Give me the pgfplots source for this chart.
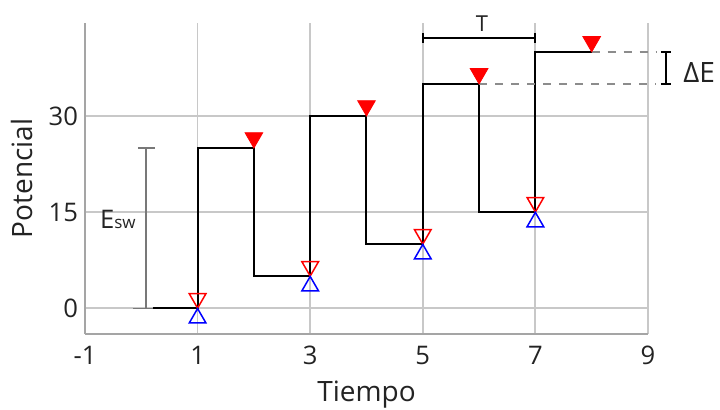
\documentclass[border=0pt]{standalone}
\usepackage{fontspec}
\setmainfont{Open Sans}
\usepackage{pgfplots}
\pgfplotsset{compat=1.18}

\definecolor{gridgray}{RGB}{200,200,200}
\definecolor{axisgray}{RGB}{165,165,165}
\definecolor{txt}{RGB}{35,35,35}
\definecolor{mred}{RGB}{255,0,0}
\definecolor{mblue}{RGB}{0,0,255}
\definecolor{dashgray}{RGB}{140,140,140}
\definecolor{barcol}{RGB}{120,120,120}

\begin{document}
\begin{tikzpicture}
\useasboundingbox (-42.5pt,-38pt) rectangle (317.5pt,167pt);
\begin{axis}[
  scale only axis, width=281.5pt, height=155.5pt,
  at={(0,0)}, anchor=south west,
  xmin=-1, xmax=9, ymin=-4, ymax=44.5,
  xtick={-1,1,3,5,7,9}, ytick={0,15,30},
  grid=major, major grid style={gridgray, line width=0.9pt},
  axis x line*=bottom, axis y line*=left,
  axis line style={axisgray, line width=1pt, -},
  tick style={draw=none},
  tick label style={font=\fontsize{12.8}{14}\selectfont, text=txt},
  xticklabel style={yshift=-2.5pt},
  /pgf/number format/assume math mode=true,
  xlabel={Tiempo}, ylabel={Potencial},
  label style={font=\fontsize{14}{16}\selectfont, text=txt},
  xlabel style={yshift=-1pt},
  ylabel style={yshift=1pt},
  clip=false,
]
% staircase with superimposed square wave
\addplot[black, line width=1pt] coordinates {
  (0.2,0) (1,0) (1,25) (2,25) (2,5) (3,5) (3,30) (4,30) (4,10)
  (5,10) (5,35) (6,35) (6,15) (7,15) (7,40) (8,40)};

% dashed guides for the step height
\addplot[dashgray, line width=0.75pt, dash pattern=on 4pt off 4pt] coordinates {(8,40) (9.15,40)};
\addplot[dashgray, line width=0.75pt, dash pattern=on 4pt off 4pt] coordinates {(6,35) (9.15,35)};

% E_sw amplitude bar
\addplot[barcol, line width=0.75pt] coordinates {(0.08,0) (0.08,25)};
\addplot[barcol, line width=0.75pt] coordinates {(-0.06,25) (0.25,25)};
\addplot[barcol, line width=0.75pt] coordinates {(-0.15,0) (0.2,0)};

% period bar
\addplot[black, line width=1pt] coordinates {(5,42.2) (7,42.2)};
\addplot[black, line width=1pt] coordinates {(5,41.4) (5,43.0)};
\addplot[black, line width=1pt] coordinates {(7,41.4) (7,43.0)};

% step height bar
\addplot[black, line width=1pt] coordinates {(9.32,35) (9.32,40)};
\addplot[black, line width=1pt] coordinates {(9.23,35) (9.41,35)};
\addplot[black, line width=1pt] coordinates {(9.23,40) (9.41,40)};

% forward current sampling points
\addplot[only marks, mark=triangle*, mark size=5.1pt, color=mred,
  mark options={yshift=5.1pt, rotate=180}] coordinates {(2,25) (4,30) (6,35) (8,40)};
% reverse current sampling points
\addplot[only marks, mark=triangle, mark size=4.8pt, color=mred,
  mark options={yshift=4.9pt, rotate=180, line width=0.75pt}] coordinates {(1,0) (3,5) (5,10) (7,15)};
\addplot[only marks, mark=triangle, mark size=4.8pt, color=mblue,
  mark options={yshift=-4.9pt, line width=0.75pt}] coordinates {(1,0) (3,5) (5,10) (7,15)};

\node[anchor=base, inner sep=0pt, font=\fontsize{11}{12}\selectfont, text=txt] at (axis cs:6.05,43.1) {T};
\node[anchor=base west, inner sep=0pt, font=\fontsize{14}{16}\selectfont, text=txt] at (axis cs:9.62,35.2) {ΔE};
\node[anchor=base west, inner sep=0pt, font=\fontsize{12.8}{14}\selectfont, text=txt] at (axis cs:-0.74,12.5) {E{\fontsize{8.5}{9}\selectfont sw}};
\end{axis}
\end{tikzpicture}
\end{document}
